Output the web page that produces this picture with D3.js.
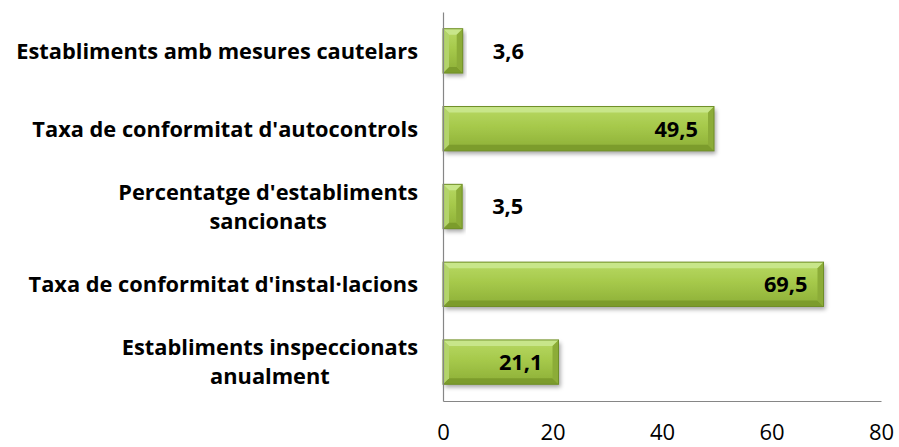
<!DOCTYPE html>
<html>
<head>
<meta charset="utf-8">
<script src="https://cdn.jsdelivr.net/npm/d3@7"></script>
<style>
  html, body { margin: 0; padding: 0; background: #fff; }
  svg { display: block; }
</style>
</head>
<body>
<svg id="chart" width="899" height="447"></svg>
<script>
// ---- data ----
const categories = [
  "Establiments amb mesures cautelars",
  "Taxa de conformitat d'autocontrols",
  "Percentatge d'establiments\nsancionats",
  "Taxa de conformitat d'instal·lacions",
  "Establiments inspeccionats\nanualment"
];
const values = [3.6, 49.5, 3.5, 69.5, 21.1];
const valueLabels = ["3,6", "49,5", "3,5", "69,5", "21,1"];
const tickValues = [0, 20, 40, 60, 80];
const tickLabels = ["0", "20", "40", "60", "80"];

// ---- layout ----
const svg = d3.select("#chart");
const plot = { left: 443, right: 881, top: 12, bottom: 401 };
const x = d3.scaleLinear().domain([0, 80]).range([plot.left, plot.right]);
const y = d3.scaleBand().domain(categories).range([plot.top, plot.bottom])
  .paddingInner(0.43).paddingOuter(0.215);

const FONT = "'Open Sans', Lato, 'DejaVu Sans', sans-serif";

const defs = svg.append("defs");
const grad = defs.append("linearGradient").attr("id", "barGrad")
  .attr("x1", 0).attr("y1", 0).attr("x2", 0).attr("y2", 1);
grad.append("stop").attr("offset", "0%").attr("stop-color", "#b8d964");
grad.append("stop").attr("offset", "45%").attr("stop-color", "#a6c94b");
grad.append("stop").attr("offset", "100%").attr("stop-color", "#8cae36");

const filt = defs.append("filter").attr("id", "shadow")
  .attr("x", "-10%").attr("y", "-20%").attr("width", "130%").attr("height", "160%");
filt.append("feDropShadow").attr("dx", 2).attr("dy", 3).attr("stdDeviation", 2)
  .attr("flood-color", "#000").attr("flood-opacity", 0.35);

// ---- bars ----
const data = categories.map((c, i) => ({ c, v: values[i], lab: valueLabels[i] }));
const bevel = 6;
const g = svg.append("g");
const bars = g.selectAll("g.bar").data(data).join("g").attr("class", "bar");

bars.append("rect")
  .attr("x", x(0)).attr("y", d => y(d.c))
  .attr("width", d => x(d.v) - x(0)).attr("height", y.bandwidth())
  .attr("fill", "url(#barGrad)")
  .attr("filter", "url(#shadow)");

// bevel facets
function facet(sel, fn, color) {
  sel.append("polygon").attr("points", d => fn(d).map(p => p.join(",")).join(" "))
    .attr("fill", color);
}
facet(bars, d => {
  const x0 = x(0), x1 = x(d.v), y0 = y(d.c), b = Math.min(bevel, (x1 - x0) / 2);
  return [[x0, y0], [x1, y0], [x1 - b, y0 + bevel], [x0 + b, y0 + bevel]];
}, "#c8e68a");
facet(bars, d => {
  const x0 = x(0), x1 = x(d.v), y0 = y(d.c), y1 = y0 + y.bandwidth(), b = Math.min(bevel, (x1 - x0) / 2);
  return [[x0, y1], [x1, y1], [x1 - b, y1 - bevel], [x0 + b, y1 - bevel]];
}, "#7c9c2c");
facet(bars, d => {
  const x0 = x(0), x1 = x(d.v), y0 = y(d.c), y1 = y0 + y.bandwidth(), b = Math.min(bevel, (x1 - x0) / 2);
  return [[x0, y0], [x0 + b, y0 + bevel], [x0 + b, y1 - bevel], [x0, y1]];
}, "#b3d46a");
facet(bars, d => {
  const x0 = x(0), x1 = x(d.v), y0 = y(d.c), y1 = y0 + y.bandwidth(), b = Math.min(bevel, (x1 - x0) / 2);
  return [[x1, y0], [x1 - b, y0 + bevel], [x1 - b, y1 - bevel], [x1, y1]];
}, "#8cac38");

bars.append("rect")
  .attr("x", x(0)).attr("y", d => y(d.c))
  .attr("width", d => x(d.v) - x(0)).attr("height", y.bandwidth())
  .attr("fill", "none").attr("stroke", "#6f8e27").attr("stroke-width", 1);

// ---- axes ----
const xAxis = d3.axisBottom(x).tickValues(tickValues)
  .tickFormat((d, i) => tickLabels[i]).tickSize(0).tickPadding(23);
const xg = svg.append("g").attr("transform", `translate(0,${plot.bottom})`).call(xAxis);
xg.select(".domain").attr("stroke", "#868686").attr("stroke-width", 1.2);
xg.selectAll("text").attr("font-family", FONT).attr("font-size", 22)
  .attr("fill", "#000");

const yAxis = d3.axisLeft(y).tickSize(0).tickFormat("");
const yg = svg.append("g").attr("transform", `translate(${plot.left},0)`).call(yAxis);
yg.select(".domain").attr("stroke", "#868686").attr("stroke-width", 1.2);

// category labels (multi-line, block right-aligned, lines centered)
const catFont = 21.8;
const lineH = 29;
const labG = svg.append("g");
data.forEach(d => {
  const lines = d.c.split("\n");
  const cy = y(d.c) + y.bandwidth() / 2;
  const tg = labG.append("text")
    .attr("font-family", FONT).attr("font-weight", "bold")
    .attr("font-size", catFont).attr("fill", "#000");
  const spans = lines.map((ln, i) => tg.append("tspan").text(ln)
    .attr("y", cy + (i - (lines.length - 1) / 2) * lineH + catFont * 0.36));
  const widths = spans.map(s => s.node().getComputedTextLength());
  const maxW = d3.max(widths);
  const right = 418;
  spans.forEach(s => s.attr("x", right - maxW / 2).attr("text-anchor", "middle"));
});

// value labels
bars.append("text")
  .attr("font-family", FONT).attr("font-weight", "bold").attr("font-size", catFont)
  .attr("fill", "#000")
  .attr("y", d => y(d.c) + y.bandwidth() / 2 + catFont * 0.36)
  .attr("x", d => (x(d.v) - x(0) > 80) ? x(d.v) - 16 : x(d.v) + 30)
  .attr("text-anchor", d => (x(d.v) - x(0) > 80) ? "end" : "start")
  .text(d => d.lab);
</script>
</body>
</html>
